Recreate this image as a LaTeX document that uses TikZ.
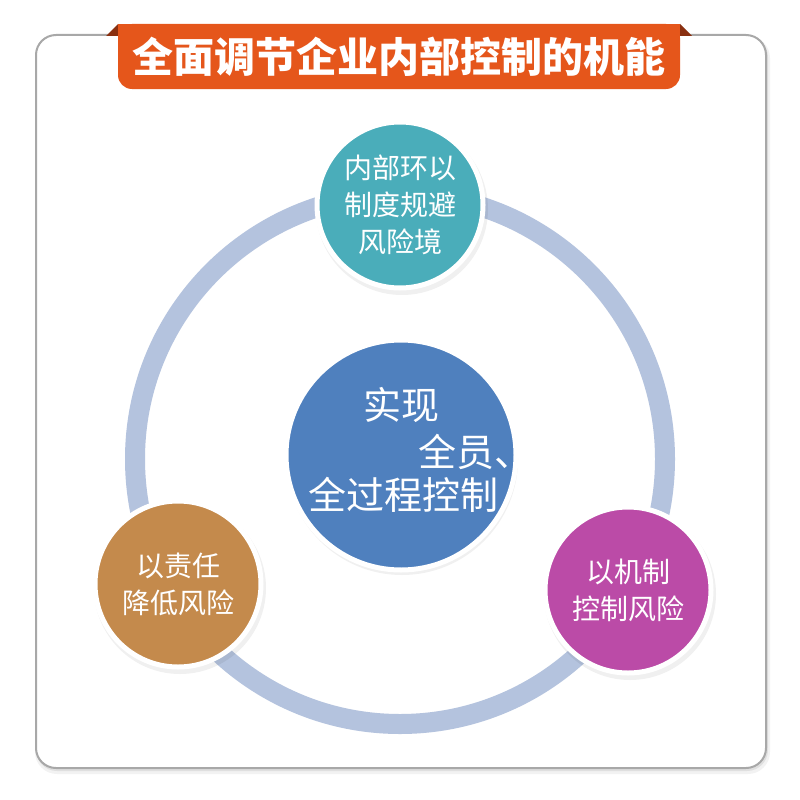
\documentclass[tikz,border=0pt]{standalone}
\usepackage{fontspec}
\newfontfamily\cjk{Noto Sans CJK SC}
\definecolor{tealc}{HTML}{4AADBA}
\definecolor{bluec}{HTML}{4F80BE}
\definecolor{brownc}{HTML}{C48A4C}
\definecolor{purplec}{HTML}{BB4BA7}
\definecolor{ringc}{HTML}{B4C3DE}
\definecolor{bannerc}{HTML}{E5561B}
\definecolor{foldc}{HTML}{8A3010}
\definecolor{framec}{HTML}{A8A8A8}
\tikzset{
  bubble/.style={circle, draw=white, line width=5pt, minimum size=166pt, inner sep=0pt,
    text=white, align=center, font=\cjk\fontsize{28}{37}\selectfont},
  bubshadow/.style={fill=black, opacity=0.06},
  midtext/.style={text=white, inner sep=0pt, font=\cjk\fontsize{38}{46}\selectfont},
  ringline/.style={draw=ringc, line width=20pt},
}
\begin{document}
\begin{tikzpicture}[x=1pt,y=-1pt]
\useasboundingbox (0,0) rectangle (800,800);
% frame with shadow
\fill[black, opacity=0.05, rounded corners=22] (35,36) rectangle (770,774);
\fill[black, opacity=0.08, rounded corners=21] (36,36) rectangle (768,771);
\draw[framec, line width=2pt, fill=white, rounded corners=20] (36,35) rectangle (766,768);
% banner
\fill[foldc] (106,36) -- (118,24) -- (118,36) -- cycle;
\fill[foldc] (680,24) -- (692,36) -- (680,36) -- cycle;
\fill[bannerc, rounded corners=14] (118,24) rectangle (680,89);
\fill[bannerc] (118,24) rectangle (680,50);
\node[text=white, inner sep=0pt, font=\cjk\bfseries\fontsize{41}{48}\selectfont] (title) at (399,57) {全面调节企业内部控制的机能};
% ring
\coordinate (rc) at (400,459);
\draw[ringline] (rc) circle (265);
% shadows
\fill[bubshadow] (402,209) circle (86);
\fill[bubshadow] (180,588) circle (86);
\fill[bubshadow] (630,594) circle (86);
\fill[bubshadow] (402,459) circle (116);
% circles
\node[bubble, fill=tealc] (top) at (400,205) {内部环以\\制度规避\\风险境};
\node[bubble, fill=brownc] (left) at (178,584) {以责任\\降低风险};
\node[bubble, fill=purplec] (right) at (628,590) {以机制\\控制风险};
\node[circle, draw=white, line width=5pt, fill=bluec, minimum size=230pt, inner sep=0pt] (mid) at (401,455) {};
\node[midtext] (m1) at (401,405) {实现};
\node[midtext, anchor=west] (m2) at (418,452) {全员、};
\node[midtext] (m3) at (403,495) {全过程控制};
\end{tikzpicture}
\end{document}
